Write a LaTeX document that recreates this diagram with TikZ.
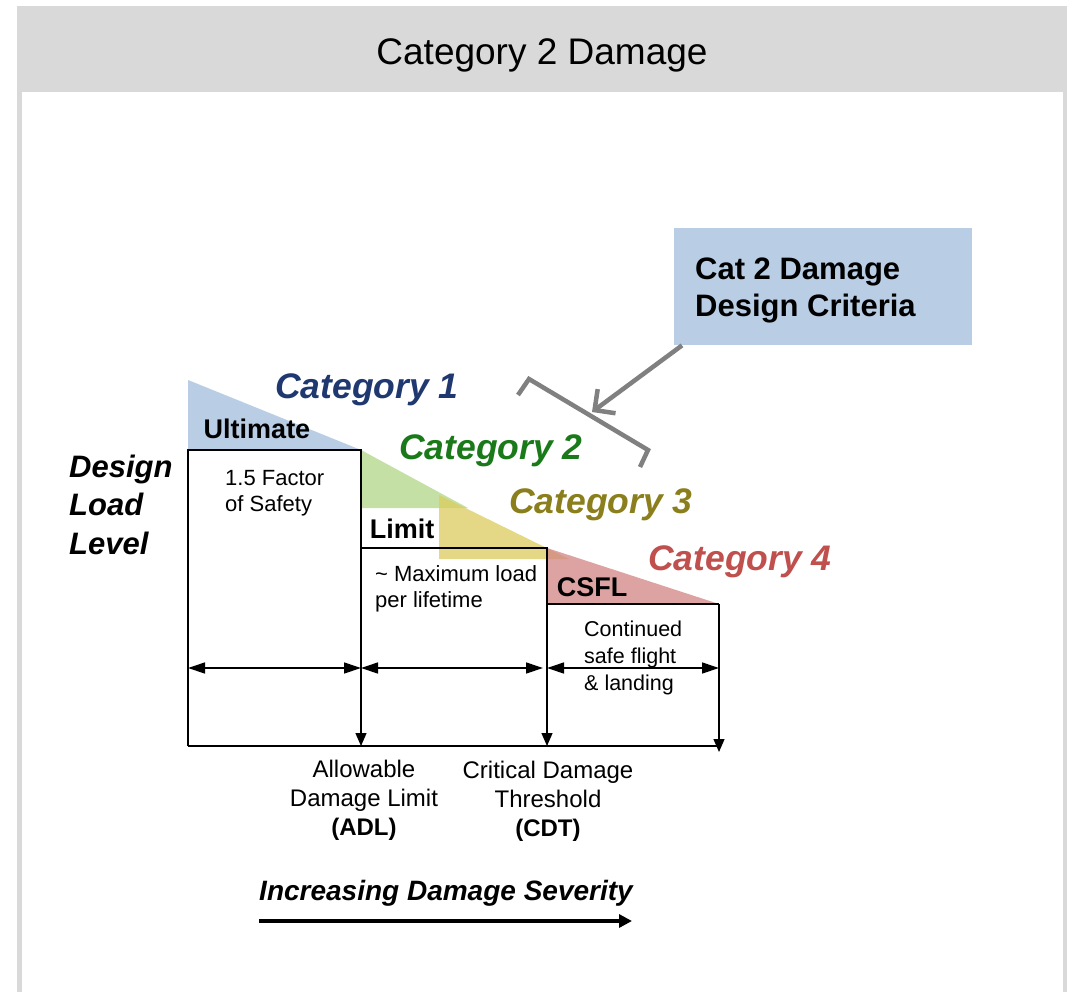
\documentclass[tikz,border=0pt]{standalone}
\usepackage{fontspec}
\setmainfont{Liberation Sans}
\usetikzlibrary{arrows.meta}

\definecolor{hdrgrey}{HTML}{D9D9D9}
\definecolor{boxblue}{HTML}{B9CDE5}
\definecolor{triblue}{HTML}{B9CDE5}
\definecolor{trigreen}{HTML}{C4E0A4}
\definecolor{triyellow}{RGB}{219,204,94}
\definecolor{trired}{RGB}{210,132,132}
\definecolor{catone}{HTML}{1F3870}
\definecolor{cattwo}{HTML}{1A7A1A}
\definecolor{catthree}{HTML}{8A7F1C}
\definecolor{catfour}{HTML}{C0504D}
\definecolor{linkgrey}{HTML}{808080}

\tikzset{
  stepline/.style={line width=2pt, line join=miter},
  dimline/.style={line width=1.3pt},
  vtip/.style={-{Triangle[length=13pt,width=11pt]}},
  hdim/.style={{Triangle[length=17pt,width=11pt]}-{Triangle[length=17pt,width=11pt]}},
  catlabel/.style={anchor=base, inner sep=0pt, font=\fontsize{35.5}{42}\selectfont\bfseries\itshape},
  lvl/.style={anchor=base, inner sep=0pt, font=\fontsize{27}{32}\selectfont\bfseries},
  note/.style={anchor=base west, inner sep=0pt, font=\fontsize{22}{26}\selectfont},
  threshlabel/.style={anchor=base, inner sep=0pt, font=\fontsize{24}{29}\selectfont},
  greylink/.style={draw=linkgrey, line width=4.5pt}
}

\begin{document}
\begin{tikzpicture}[x=1pt,y=-1pt]
\useasboundingbox (0,0) rectangle (1074,992);

% panel frame with header band
\fill[hdrgrey] (17,6) rectangle (1067,992);
\fill[white] (22,92) rectangle (1063,992);
\node[anchor=base, inner sep=0pt, font=\fontsize{37}{44}\selectfont] (title) at (542,65) {Category 2 Damage};

% category wedges
\fill[triblue] (188,380) -- (188,450) -- (361,450) -- cycle;
\fill[trigreen] (361,450) -- (361,508) -- (468,508) -- cycle;
\fill[triyellow, fill opacity=0.75] (439,495) -- (439,559) -- (569,559) -- cycle;
\fill[trired, fill opacity=0.75] (547,548) -- (547,604) -- (719,604) -- cycle;

% key points of the load steps
\coordinate (o)   at (188,746);
\coordinate (u0)  at (188,450);
\coordinate (u1)  at (361,450);
\coordinate (l0)  at (361,548);
\coordinate (l1)  at (547,548);
\coordinate (c0)  at (547,604);
\coordinate (c1)  at (719,604);
\coordinate (adl) at (361,746);
\coordinate (cdt) at (547,746);
\coordinate (end) at (719,746);
\coordinate (endtip) at (719,752);

% load steps and axes
\draw[stepline] (o) -- (u0) -- (u1) -- (l0) -- (l1) -- (c0) -- (c1);
\draw[stepline] (o) -- (end);
\draw[dimline, vtip] (l0) -- (adl);
\draw[dimline, vtip] (c0) -- (cdt);
\draw[dimline, vtip] (c1) -- (endtip);

% span arrows
\coordinate (s0) at (188,668);
\coordinate (s1) at (361,668);
\coordinate (s2) at (543,668);
\coordinate (s3) at (547,668);
\coordinate (s4) at (719,668);
\draw[dimline, hdim] (s0) -- (s1);
\draw[dimline, hdim] (s1) -- (s2);
\draw[dimline, hdim] (s3) -- (s4);

% category labels
\node[catlabel, text=catone]   (cat1) at (367,398) {Category 1};
\node[catlabel, text=cattwo]   (cat2) at (491,459) {Category 2};
\node[catlabel, text=catthree] (cat3) at (601,513) {Category 3};
\node[catlabel, text=catfour]  (cat4) at (740,570) {Category 4};

% load level labels
\node[lvl] (ult) at (257,438) {Ultimate};
\node[lvl] (lim) at (402,538) {Limit};
\node[lvl] (csfl) at (592,596) {CSFL};

\node[anchor=base west, inner sep=0pt, font=\fontsize{31}{38.5}\selectfont\bfseries\itshape] (dll) at (69,477)
  {\begin{tabular}[t]{@{}l@{}}Design\\Load\\Level\end{tabular}};

% notes inside the steps
\node[note] (fos) at (225,485) {\begin{tabular}[t]{@{}l@{}}1.5 Factor\\of Safety\end{tabular}};
\node[note] (maxl) at (375,581) {\begin{tabular}[t]{@{}l@{}}\textasciitilde{} Maximum\hspace{6pt}load\\per lifetime\end{tabular}};
\node[note, font=\fontsize{21.5}{27}\selectfont] (csf) at (584,636) {\begin{tabular}[t]{@{}l@{}}Continued\\safe flight\\\& landing\end{tabular}};

% threshold labels
\node[threshlabel] (adltxt) at (364,777) {\begin{tabular}[t]{@{}c@{}}Allowable\\Damage Limit\\\textbf{(ADL)}\end{tabular}};
\node[threshlabel] (cdttxt) at (548,778) {\begin{tabular}[t]{@{}c@{}}Critical Damage\\Threshold\\\textbf{(CDT)}\end{tabular}};

% severity axis
\node[anchor=base, inner sep=0pt, font=\fontsize{28}{34}\selectfont\bfseries\itshape] (sev) at (446,900) {Increasing Damage Severity};
\coordinate (sv0) at (259,921);
\coordinate (sv1) at (632,921);
\draw[line width=4pt, -{Triangle[length=13pt,width=13pt]}] (sv0) -- (sv1);

% design criteria callout
\node[fill=boxblue, minimum width=298pt, minimum height=117pt, anchor=north west, inner sep=0pt] (crit) at (674,228) {};
\node[anchor=base west, inner sep=0pt, font=\fontsize{31}{37}\selectfont\bfseries] (crittxt) at (695,280)
  {\begin{tabular}[t]{@{}l@{}}Cat 2 Damage\\Design Criteria\end{tabular}};

\coordinate (b0) at (518,395);
\coordinate (b1) at (529,379);
\coordinate (b2) at (648,450);
\coordinate (b3) at (640,467);
\draw[greylink, line join=miter] (b0) -- (b1) -- (b2) -- (b3);
\coordinate (ptr) at (592,412);
\draw[greylink, -{Straight Barb[length=15pt,width=30pt]}] ([xshift=8pt]crit.south west) -- (ptr);
\end{tikzpicture}
\end{document}
